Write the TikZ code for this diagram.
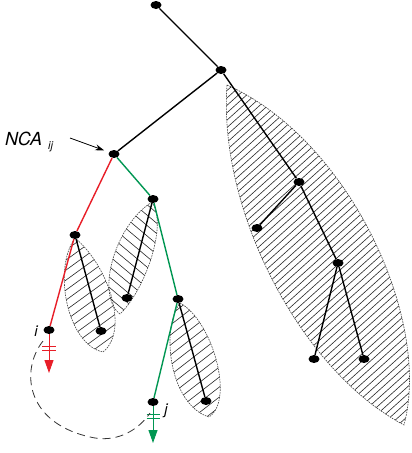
\documentclass[tikz,border=0pt]{standalone}
\usepackage{fontspec}
\setmainfont{TeX Gyre Heros}
\usetikzlibrary{shapes.geometric,arrows.meta}
\definecolor{tred}{RGB}{232,30,40}
\definecolor{tgreen}{RGB}{0,150,82}
\def\leafA{(227,85) .. controls (350,140) and (432,320) .. (404,425) .. controls (300,370) and (218,210) .. (227,85) -- cycle}
\def\leafB{(75,238) .. controls (108,265) and (130,330) .. (103,352) .. controls (68,345) and (52,270) .. (75,238) -- cycle}
\def\leafC{(152,202) .. controls (168,225) and (145,290) .. (120,314) .. controls (95,295) and (115,225) .. (152,202) -- cycle}
\def\leafD{(180,303) .. controls (212,320) and (235,400) .. (209,417) .. controls (170,405) and (160,330) .. (180,303) -- cycle}
\begin{document}
\begin{tikzpicture}[x=1pt,y=-1pt,
  dot/.style={ellipse,fill=black,inner sep=0pt,minimum width=11pt,minimum height=8pt},
  edge/.style={line width=1.4pt,black},
  redge/.style={line width=1.4pt,tred},
  gedge/.style={line width=1.4pt,tgreen},
  leaf/.style={draw=black!75,line width=0.6pt,dash pattern=on 1.6pt off 1pt},
  hatch/.style={line width=0.6pt,black!85},
  lbl/.style={font=\fontsize{15}{15}\selectfont\itshape,inner sep=0pt}]
\useasboundingbox (0,0) rectangle (412,453);
% hatched leaves
\begin{scope}
  \clip \leafA;
  \foreach \c in {280,287.4,...,800} \draw[hatch] (200,\c-180) -- (420,\c-378);
\end{scope}
\draw[leaf] \leafA;
\begin{scope}
  \clip \leafB;
  \foreach \c in {268,278,...,460} \draw[hatch] (50,\c-36.3) -- (135,\c-98.1);
\end{scope}
\draw[leaf] \leafB;
\begin{scope}
  \clip \leafC;
  \foreach \c in {50,60.4,...,245} \draw[hatch] (90,\c+75.5) -- (175,\c+147);
\end{scope}
\draw[leaf] \leafC;
\begin{scope}
  \clip \leafD;
  \foreach \c in {418,428,...,612} \draw[hatch] (155,\c-121) -- (240,\c-187);
\end{scope}
\draw[leaf] \leafD;
% nodes
\node[dot] (root) at (156,5) {};
\node[dot] (n1) at (221,70) {};
\node[dot] (nca) at (114,154) {};
\node[dot] (b1) at (299,182) {};
\node[dot] (b2) at (257,228) {};
\node[dot] (b3) at (338,263) {};
\node[dot] (b4) at (314,359) {};
\node[dot] (b5) at (364,359) {};
\node[dot] (r1) at (75,235) {};
\node[dot] (i) at (49,330) {};
\node[dot] (l1) at (101,331) {};
\node[dot] (g1) at (153,199) {};
\node[dot] (l2) at (127,298) {};
\node[dot] (g2) at (178,299) {};
\node[dot] (l3) at (206,401) {};
\node[dot] (j) at (153,402) {};
% edges
\draw[edge] (root) -- (n1);
\draw[edge] (n1) -- (nca);
\draw[edge] (n1) -- (b1);
\draw[edge] (b1) -- (b2);
\draw[edge] (b1) -- (b3);
\draw[edge] (b3) -- (b4);
\draw[edge] (b3) -- (b5);
\draw[redge] (nca) -- (r1);
\draw[redge] (r1) -- (i);
\draw[edge] (r1) -- (l1);
\draw[gedge] (nca) -- (g1);
\draw[edge] (g1) -- (l2);
\draw[gedge] (g1) -- (g2);
\draw[edge] (g2) -- (l3);
\draw[gedge] (g2) -- (j);
% terminal arrows with bars
\coordinate (itip) at (49,373);
\coordinate (jtip) at (153,443);
\draw[tred,line width=1pt,-{Triangle[length=13pt,width=9pt]}] (i) -- (itip);
\draw[tred,line width=1pt] (42,346) -- (56,346) (42,350) -- (56,350);
\draw[tgreen,line width=1pt,-{Triangle[length=13pt,width=9pt]}] (j) -- (jtip);
\draw[tgreen,line width=1pt] (146.5,414.5) -- (159.5,414.5) (146.5,418.5) -- (159.5,418.5);
% dashed connection
\coordinate (dstart) at (43,341);
\coordinate (dend) at (150,413);
\draw[black!80,line width=0.8pt,dash pattern=on 8pt off 5pt]
  (dstart) .. controls (20,370) and (25,425) .. (95,438)
  .. controls (120,442) and (140,428) .. (dend);
% labels
\node[lbl,anchor=base] (ilbl) at (36,336) {i};
\node[lbl,anchor=base] (jlbl) at (166,414) {j};
\node[inner sep=0pt,anchor=base west] (ncalbl) at (5,145)
  {\fontsize{18}{18}\selectfont\itshape NCA\hspace{6pt}\raisebox{-4pt}{\fontsize{11}{11}\selectfont ij}};
\coordinate (arrtail) at (70,138);
\draw[line width=0.8pt,-{Stealth[length=9pt,width=6pt]},shorten >=5pt] (arrtail) -- (nca);
\end{tikzpicture}
\end{document}
